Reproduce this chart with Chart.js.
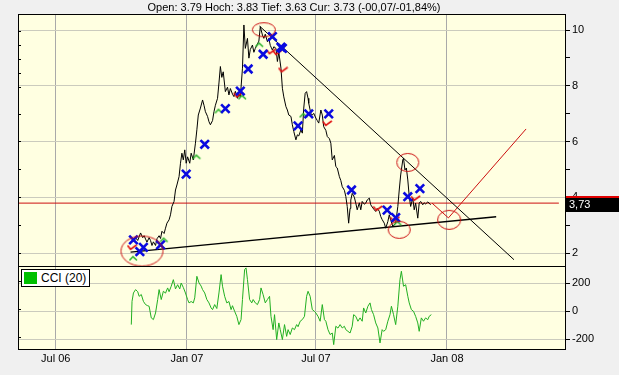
<!DOCTYPE html>
<html><head><meta charset="utf-8">
<script src="https://cdn.jsdelivr.net/npm/chart.js@4"></script>
<style>
html,body{margin:0;padding:0;background:#f0f0f0;}
#wrap{position:relative;width:619px;height:375px;overflow:hidden;background:#f0f0f0;}
#title{position:absolute;left:18px;width:552px;top:0;text-align:center;font:11px "Liberation Sans",Arial,sans-serif;line-height:14px;color:#000;white-space:nowrap;}
#legend{position:absolute;left:21px;top:269px;width:67px;height:16px;background:#fff;border:1px solid #000;font:12px "Liberation Sans",Arial,sans-serif;line-height:16px;color:#000;}
#legend .sw{position:absolute;left:2px;top:2px;width:13px;height:12px;background:#00c000;}
#legend .tx{position:absolute;left:19px;top:0;}
canvas{position:absolute;left:0;top:0;}
</style></head>
<body>
<div id="wrap">
<canvas id="c" width="619" height="375"></canvas>
<div id="title">Open: 3.79 Hoch: 3.83 Tief: 3.63 Cur: 3.73 (-00,07/-01,84%)</div>
<div id="legend"><span class="sw"></span><span class="tx">CCI (20)</span></div>
</div>
<script>
// ---- data (x = days since 1 Jul 2006) ----
const tickDays   = [0, 184, 365, 549];
const tickLabels = ['Jul 06', 'Jan 07', 'Jul 07', 'Jan 08'];
const priceTicks = [2, 3, 4, 5, 6, 7, 8, 9, 10];
const cciTicks   = [-200, -100, 0, 100, 200];

const priceDays = [
 108,112,115,119,122,124,126,128,131,133,
 135,137,140,142,145,147,149,152,154,156,
 159,161,163,166,168,170,173,175,177,179,
 181,183,185,188,190,193,196,198,200,203,
 206,208,210,213,215,217,220,222,224,227,
 229,231,233,235,238,241,243,245,248,250,
 252,255,257,259,262,264,266,269,271,273,
 276,278,280,283,285,287,290,292,294,297,
 299,301,304,306,309,311,313,316,318,320,
 323,325,327,330,332,334,337,339,341,344,
 346,348,350,352,354,355,358,360,362,365,
 367,369,372,374,376,379,381,384,386,388,
 391,393,395,398,400,402,405,407,409,411,
 413,414,416,419,421,423,426,428,430,433,
 435,437,440,442,444,447,449,451,454,456,
 458,461,463,466,468,470,473,475,477,480,
 482,484,487,488,490,492,494,496,498,501,
 503,505,508,510,512,515,517,519,522,524,
 526];
const priceValues = [
 2.40,2.55,2.45,2.72,2.55,2.62,2.50,2.39,2.55,2.45,
 2.27,2.40,2.27,2.51,2.62,2.52,2.78,2.70,2.89,3.07,
 3.19,3.37,3.67,3.85,4.26,4.44,4.74,5.22,5.58,5.34,
 5.70,5.22,5.45,5.22,5.58,5.34,5.94,6.42,6.95,7.20,
 7.49,7.30,7.07,6.90,6.71,6.60,6.75,7.07,7.30,7.55,
 8.10,8.69,8.30,8.50,7.79,7.95,7.67,7.90,7.70,7.61,
 7.80,7.55,7.70,7.60,8.63,10.18,9.34,9.70,8.99,9.30,
 9.46,9.20,9.34,9.50,9.60,10.12,9.82,9.70,9.85,9.58,
 9.70,9.45,9.28,9.40,9.34,8.87,9.20,8.63,7.91,7.60,
 7.25,7.13,6.95,6.90,6.60,6.36,6.06,6.24,6.20,6.42,
 6.30,7.20,7.73,7.79,7.55,7.37,7.00,6.95,7.01,6.84,
 6.75,6.66,7.13,6.95,6.53,6.40,6.18,6.10,5.94,5.34,
 5.50,5.10,5.05,4.74,4.60,4.38,4.25,4.03,3.67,3.07,
 3.60,3.90,4.14,4.00,3.79,3.55,3.80,3.55,3.85,3.75,
 3.79,3.90,3.97,3.73,3.65,3.55,3.49,3.60,3.50,3.31,
 3.20,3.07,2.89,3.13,3.37,3.19,2.95,3.01,3.07,3.67,
 4.26,4.80,5.34,5.40,4.98,5.05,4.62,4.03,3.67,3.97,
 3.55,3.79,3.25,3.79,3.85,3.73,3.80,3.76,3.83,3.79,
 3.73];

const cciDays = [
 106,107,109,112,115,117,120,123,126,129,
 131,134,137,140,143,145,148,151,154,157,
 159,162,165,168,171,174,176,179,182,185,
 187,190,193,195,198,201,204,206,209,212,
 215,218,220,223,226,229,232,234,237,240,
 243,246,248,251,254,257,260,262,265,267,
 269,272,275,277,280,283,286,288,291,294,
 297,300,302,305,307,310,313,315,318,321,
 324,326,329,332,335,338,340,343,346,349,
 352,354,357,360,363,365,368,371,374,377,
 379,382,385,388,390,393,396,399,402,405,
 407,410,413,416,418,421,424,427,430,432,
 435,438,441,443,446,449,452,455,458,460,
 463,466,469,471,474,477,480,483,485,488,
 491,494,496,499,502,505,508,510,513,516,
 519,522,524,527];
const cciValues = [
 -95,71,131,155,140,107,120,71,48,40,
 36,-47,-59,-12,84,155,84,143,130,167,
 140,179,226,160,190,160,202,170,131,84,
 60,70,60,96,250,203,180,155,131,84,
 60,24,12,48,20,131,262,179,107,60,
 70,12,40,0,-36,-95,-59,84,298,310,
 226,84,60,84,60,48,84,167,119,60,
 84,107,-36,-131,-24,-202,-83,-131,-202,-95,
 -179,-131,-166,-119,-131,-95,-110,-71,-59,-36,
 107,143,107,12,0,-12,-36,-71,48,-59,
 -71,-131,-166,-155,-238,-107,-120,-95,-119,-107,
 -131,-143,-155,-107,-24,-36,-71,-47,-71,24,
 -12,36,60,12,-24,-83,-119,-226,-131,-143,
 -131,-71,-24,36,-24,-95,36,226,286,179,
 190,107,60,12,0,-36,-83,-143,-47,-71,
 -47,-60,-36,-24];

const openPrice = 3.79;
const lastPrice = 3.73;

// annotation marks
const xMarkDays   = [109,123,118,147,183,209,238,259,270,291,304,316,318,340,355,383,415,465,477,494,511];
const xMarkPrices = [2.47,2.20,2.05,2.29,4.83,5.90,7.18,7.81,8.60,9.13,9.76,9.38,9.34,6.56,6.99,6.99,4.26,3.54,3.27,4.02,4.31];
const upMarkDays   = [109,152,198,229,262,286,348,480];
const upMarkPrices = [1.81,2.47,5.45,7.09,7.59,9.47,6.94,3.07];
const downMarkDays   = [107,256,302,311,319,381,452,476,505];
const downMarkPrices = [2.20,7.67,9.22,9.19,8.57,6.65,3.60,3.21,3.96];
const circleDays   = [121,292,494,482,552];
const circlePrices = [2.07,10.01,5.25,2.83,3.19];
const resistDays   = [286,643];
const resistPrices = [10.14,1.76];
const supportDays   = [105,618];
const supportPrices = [2.03,3.30];
const projDays   = [528,551,660];
const projPrices = [3.79,3.26,6.45];
const openLineDays = [-60,706];

// ---- drawing ----
const pts = (xs, ys) => xs.map((x, i) => ({x: x, y: ys[i]}));
const FONT = '"Liberation Sans", Arial, sans-serif';
const RED = '#cc0f0f';

function chevron(color, down) {
  const c = document.createElement('canvas'); c.width = 11; c.height = 7;
  const g = c.getContext('2d'); g.strokeStyle = color; g.lineWidth = 1.6; g.beginPath();
  if (!down) { g.moveTo(1.5, 5.5); g.lineTo(5, 1.8); g.lineTo(9, 5.5); }
  else { g.moveTo(1, 1.5); g.lineTo(4, 5.5); g.lineTo(10, 1); }
  g.stroke(); return c;
}
function ellipse(rx, ry) {
  const c = document.createElement('canvas');
  c.width = Math.ceil(2 * rx + 3); c.height = Math.ceil(2 * ry + 3);
  const g = c.getContext('2d'); g.strokeStyle = RED; g.lineWidth = 1;
  g.beginPath(); g.ellipse(c.width / 2, c.height / 2, rx, ry, 0, 0, 2 * Math.PI); g.stroke();
  return c;
}
const ellipseSizes = [[21,15],[11.5,7],[11,9],[11,8.5],[11.5,9.5]];
const ellipseImgs = ellipseSizes.map(s => ellipse(s[0], s[1]));
const upImg = chevron('#2db52d', false);
const downImg = chevron('#e01010', true);

const bgPlugin = {
  id: 'bg',
  beforeDraw(chart) {
    const {ctx, chartArea: a} = chart;
    ctx.save(); ctx.fillStyle = '#ffffe1';
    ctx.fillRect(a.left, a.top, a.right - a.left, a.bottom - a.top);
    ctx.restore();
  },
  afterDraw(chart) {
    const {ctx, chartArea: a, scales} = chart;
    ctx.save();
    ctx.strokeStyle = '#000'; ctx.lineWidth = 1;
    const L = Math.round(a.left) + 0.5, R = Math.round(a.right) - 0.5;
    const T = Math.round(a.top) + 0.5, B = Math.round(a.bottom) - 0.5;
    ctx.strokeRect(L, T, R - L, B - T);
    const sy = Math.round(scales.yc.top) + 0.5;
    ctx.beginPath(); ctx.moveTo(L, sy); ctx.lineTo(R, sy); ctx.stroke();
    // last price tag
    const py = scales.y.getPixelForValue(lastPrice);
    const x0 = Math.round(a.right);
    ctx.fillStyle = '#e00000'; ctx.fillRect(x0, Math.round(py) - 9, chart.width - x0, 2);
    ctx.fillStyle = '#000'; ctx.fillRect(x0, Math.round(py) - 7, chart.width - x0, 14);
    ctx.fillStyle = '#fff'; ctx.font = '11px ' + FONT; ctx.textBaseline = 'middle'; ctx.textAlign = 'left';
    ctx.fillText(lastPrice.toFixed(2).replace('.', ','), x0 + 3, Math.round(py));
    ctx.restore();
  }
};

const lineDs = (data, color, width, yAxisID, order) => ({
  data, borderColor: color, borderWidth: width, showLine: true, pointRadius: 0,
  pointHoverRadius: 0, fill: false, tension: 0, yAxisID, order
});

// left-side inward tick marks (no labels)
const leftAxis = (ticksArr, weight, min, max) => ({
  type: 'linear', position: 'left', stack: 'leftPanels', stackWeight: weight, min, max,
  afterBuildTicks: s => { s.ticks = ticksArr.map(v => ({value: v})); },
  afterFit: s => { s.width = 0; },
  ticks: { display: false },
  grid: { drawOnChartArea: false, drawTicks: true, tickLength: -3, tickColor: '#000', color: '#000' },
  border: { display: false }
});

new Chart(document.getElementById('c'), {
  type: 'scatter',
  data: {
    datasets: [
      { data: pts(circleDays, circlePrices), pointStyle: ellipseImgs, pointRadius: 5, showLine: false, yAxisID: 'y', order: 0 },
      { data: pts(xMarkDays, xMarkPrices), pointStyle: 'crossRot', pointRadius: 6, pointBorderWidth: 2.6,
        pointBorderColor: '#0a0ae0', pointBackgroundColor: '#0a0ae0', showLine: false, yAxisID: 'y', order: 1 },
      { data: pts(upMarkDays, upMarkPrices), pointStyle: upImg, pointRadius: 5, showLine: false, yAxisID: 'y', order: 2 },
      { data: pts(downMarkDays, downMarkPrices), pointStyle: downImg, pointRadius: 5, showLine: false, yAxisID: 'y', order: 2 },
      lineDs(pts(priceDays, priceValues), '#000', 1, 'y', 5),
      lineDs(pts(resistDays, resistPrices), '#000', 1, 'y', 6),
      lineDs(pts(supportDays, supportPrices), '#000', 1.4, 'y', 6),
      lineDs(pts(projDays, projPrices), RED, 1, 'y', 6),
      lineDs(openLineDays.map(d => ({x: d, y: openPrice})), RED, 1, 'y', 7),
      lineDs(pts(cciDays, cciValues), '#22b022', 1, 'yc', 5)
    ]
  },
  options: {
    responsive: false, animation: false, events: [],
    layout: { padding: { left: 18, top: 14, right: 0, bottom: 0 } },
    plugins: { legend: { display: false }, tooltip: { enabled: false }, title: { display: false } },
    scales: {
      x: {
        type: 'linear', position: 'bottom', min: -53, max: 716,
        afterBuildTicks: s => { s.ticks = tickDays.map(v => ({value: v})); },
        afterFit: s => { s.height = 25; },
        ticks: { callback: v => { const i = tickDays.indexOf(v); return i >= 0 ? tickLabels[i] : ''; },
                 font: { size: 11, family: FONT }, color: '#000', padding: 2, maxRotation: 0, autoSkip: false },
        grid: { color: '#a9a9a9', drawTicks: false, lineWidth: 1 },
        border: { display: false }
      },
      y: {
        type: 'linear', position: 'right', stack: 'panels', stackWeight: 3, min: 1.534, max: 10.574,
        afterBuildTicks: s => { s.ticks = priceTicks.map(v => ({value: v})); },
        afterFit: s => { s.width = 53; },
        ticks: { callback: v => (v % 2 === 0 ? String(v) : ''), font: { size: 11, family: FONT }, color: '#000', padding: 2 },
        grid: { color: c => (c.tick && c.tick.value % 2 === 0 ? '#cbcbbd' : 'rgba(0,0,0,0)'), tickColor: '#000', tickLength: 4 },
        border: { display: false }
      },
      yc: {
        type: 'linear', position: 'right', stack: 'panels', stackWeight: 1, min: -276.4, max: 323.6,
        afterBuildTicks: s => { s.ticks = cciTicks.map(v => ({value: v})); },
        afterFit: s => { s.width = 53; },
        ticks: { callback: v => (v % 200 === 0 ? String(v) : ''), font: { size: 11, family: FONT }, color: '#000', padding: 2 },
        grid: { color: c => (c.tick && Math.abs(c.tick.value) === 100 ? '#222' : '#cbcbbd'), tickColor: '#000', tickLength: 4 },
        border: { display: false }
      },
      yl: leftAxis(priceTicks, 3, 1.534, 10.574),
      ycl: leftAxis(cciTicks, 1, -276.4, 323.6)
    }
  },
  plugins: [bgPlugin]
});
</script>
</body></html>
